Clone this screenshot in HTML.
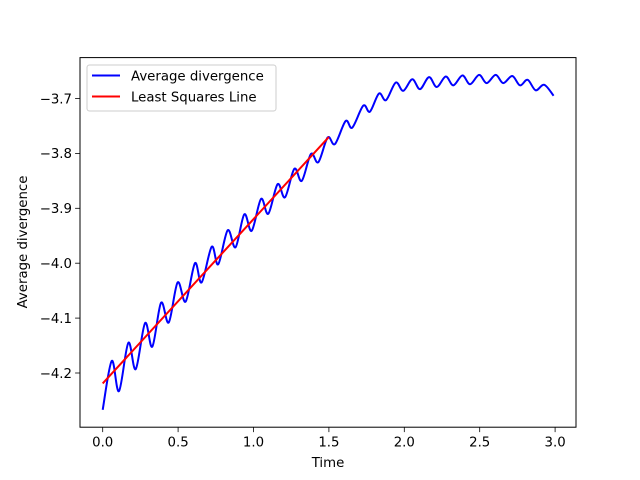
<!DOCTYPE html>
<html><head><meta charset="utf-8"><style>
html,body{margin:0;padding:0;background:#fff;}
svg{display:block;font-family:"DejaVu Sans","Liberation Sans",sans-serif;}
</style></head><body>
<svg id="chart" width="640" height="480" viewBox="0 0 640 480" xmlns="http://www.w3.org/2000/svg">
<rect x="0" y="0" width="640" height="480" fill="#fff"/>
<g id="plot"></g>
</svg>
<script>
const timeValues=[0,0.060,0.108,0.170,0.219,0.281,0.329,0.387,0.438,0.497,0.550,0.612,0.656,0.723,0.766,0.829,0.881,0.939,0.988,1.050,1.098,1.160,1.209,1.271,1.320,1.381,1.430,1.492,1.540,1.611,1.655,1.728,1.772,1.832,1.879,1.943,1.993,2.053,2.104,2.164,2.215,2.275,2.325,2.385,2.436,2.496,2.546,2.606,2.656,2.716,2.767,2.818,2.871,2.928,2.99];
const divergenceValues=[-4.267,-4.178,-4.233,-4.145,-4.193,-4.109,-4.152,-4.072,-4.108,-4.035,-4.070,-4.000,-4.035,-3.970,-4.002,-3.940,-3.971,-3.911,-3.941,-3.883,-3.910,-3.856,-3.880,-3.828,-3.850,-3.801,-3.816,-3.771,-3.783,-3.741,-3.753,-3.713,-3.724,-3.691,-3.703,-3.671,-3.686,-3.665,-3.683,-3.661,-3.679,-3.660,-3.676,-3.658,-3.674,-3.657,-3.672,-3.657,-3.672,-3.659,-3.676,-3.666,-3.685,-3.675,-3.695];
const fitTimes=[0,1.5];
const fitValues=[-4.219,-3.770];
const xTicks=[0,0.5,1.0,1.5,2.0,2.5,3.0];
const xTickLabels=["0.0","0.5","1.0","1.5","2.0","2.5","3.0"];
const yTicks=[-4.2,-4.1,-4.0,-3.9,-3.8,-3.7];
const yTickLabels=["\u22124.2","\u22124.1","\u22124.0","\u22123.9","\u22123.8","\u22123.7"];

const NS="http://www.w3.org/2000/svg";
const g=document.getElementById('plot');
const L=80,R=576,T=57.6,B=427.2;
function xs(t){return 102.7+150.8*t;}
function ys(v){return 98.5+(-3.7-v)*549;}
function mk(tag,attrs,parent){const e=document.createElementNS(NS,tag);for(const k in attrs)e.setAttribute(k,attrs[k]);(parent||g).appendChild(e);return e;}

// blue curve (Catmull-Rom through sampled points)
const pts=timeValues.map((t,i)=>[xs(t),ys(divergenceValues[i])]);
let d="M"+pts[0][0].toFixed(2)+","+pts[0][1].toFixed(2);
for(let i=0;i<pts.length-1;i++){
  const p0=pts[Math.max(0,i-1)],p1=pts[i],p2=pts[i+1],p3=pts[Math.min(pts.length-1,i+2)];
  const c1=[p1[0]+(p2[0]-p0[0])/6,p1[1]+(p2[1]-p0[1])/6];
  const c2=[p2[0]-(p3[0]-p1[0])/6,p2[1]-(p3[1]-p1[1])/6];
  d+=" C"+c1[0].toFixed(2)+","+c1[1].toFixed(2)+" "+c2[0].toFixed(2)+","+c2[1].toFixed(2)+" "+p2[0].toFixed(2)+","+p2[1].toFixed(2);
}
const curve=mk('path',{d:d,fill:'none',stroke:'#0000ff','stroke-width':2,'stroke-linejoin':'round'});



const fit=mk('polyline',{points:fitTimes.map((t,i)=>xs(t)+","+ys(fitValues[i])).join(" "),fill:'none',stroke:'#ff0000','stroke-width':2});



// frame
const frame=mk('rect',{x:L,y:T,width:R-L,height:B-T,fill:'none',stroke:'#000','stroke-width':1});



xTicks.forEach((t,i)=>{
  const x=xs(t);
  const tk=mk('line',{x1:x,y1:B,x2:x,y2:B+4.9,stroke:'#000','stroke-width':0.8});
  
  
  const tx=mk('text',{x:x,y:B+19.5,'text-anchor':'middle','font-size':'13.3px',fill:'#000'});
  tx.textContent=xTickLabels[i];
  
  
});
yTicks.forEach((v,i)=>{
  const y=ys(v);
  const tk=mk('line',{x1:L-4.9,y1:y,x2:L,y2:y,stroke:'#000','stroke-width':0.8});
  
  
  const tx=mk('text',{x:L-8,y:y+4.8,'text-anchor':'end','font-size':'13.3px',fill:'#000'});
  tx.textContent=yTickLabels[i];
  
  
});

const xl=mk('text',{x:(L+R)/2,y:467,'text-anchor':'middle','font-size':'13.3px',fill:'#000'});
xl.textContent='Time';


const yl=mk('text',{x:0,y:0,'text-anchor':'middle','font-size':'13.3px',fill:'#000',transform:'translate(27,242) rotate(-90)'});
yl.textContent='Average divergence';



// legend
const lg=mk('g',{});


mk('rect',{x:87,y:65,width:189,height:46,rx:2.5,fill:'#fff','fill-opacity':0.8,stroke:'#cccccc','stroke-width':1},lg);
const entries=[['Average divergence','#0000ff',75.5],['Least Squares Line','#ff0000',96.5]];
entries.forEach(e=>{
  const eg=mk('g',{},lg);
  
  
  mk('line',{x1:92,y1:e[2],x2:120,y2:e[2],stroke:e[1],'stroke-width':2},eg);
  const t=mk('text',{x:131,y:e[2]+4.8,'font-size':'13.3px',fill:'#000'},eg);
  t.textContent=e[0];
});
</script>
</body></html>
